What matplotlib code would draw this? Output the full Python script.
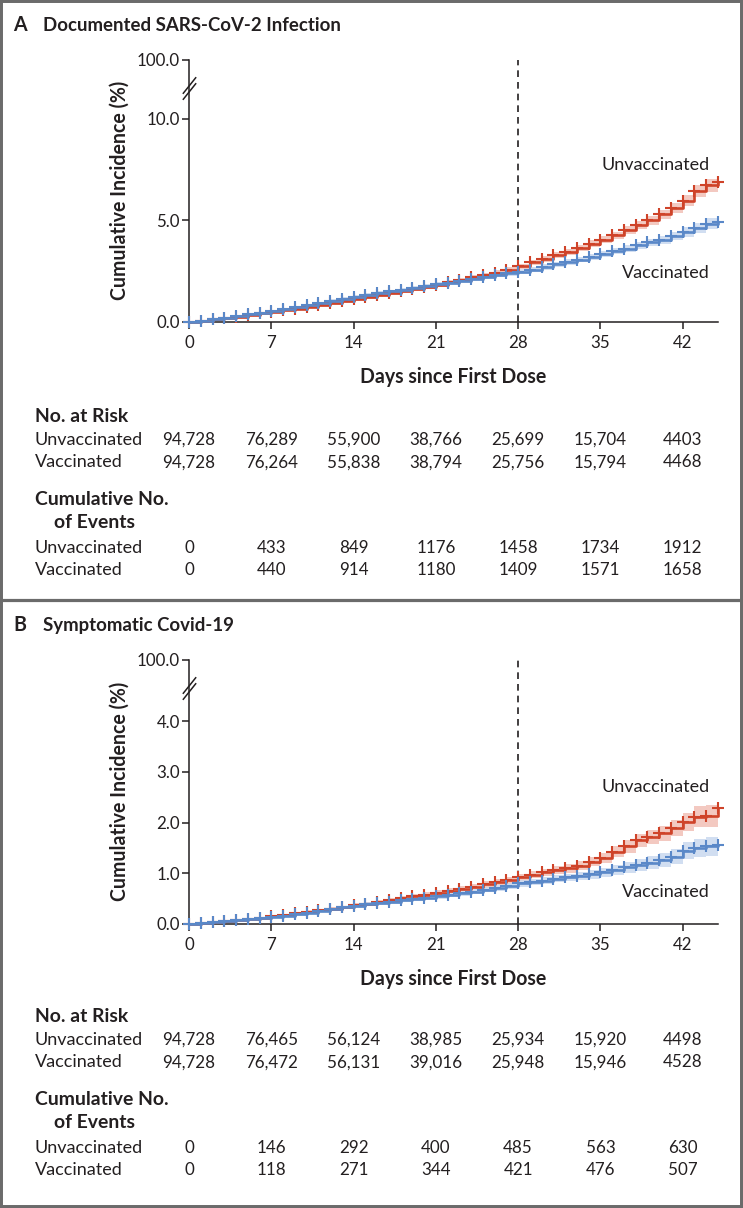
import matplotlib
matplotlib.use('Agg')
import matplotlib.pyplot as plt
from matplotlib import transforms
from matplotlib.lines import Line2D
from matplotlib.patches import Rectangle

W, H = 743, 1208

DAYS = list(range(46))
XTICKS = [0, 7, 14, 21, 28, 35, 42]

# panel A, documented infection (cumulative incidence, %)
A_UNVAX = [0.00, 0.06, 0.13, 0.20, 0.27, 0.34, 0.42, 0.50, 0.57, 0.65,
           0.73, 0.82, 0.91, 1.01, 1.12, 1.22, 1.32, 1.42, 1.52, 1.62,
           1.73, 1.84, 1.95, 2.07, 2.19, 2.31, 2.43, 2.57, 2.74, 2.93,
           3.10, 3.28, 3.45, 3.62, 3.85, 4.05, 4.26, 4.51, 4.75, 5.00,
           5.30, 5.60, 5.97, 6.45, 6.72, 6.90]
A_VAX = [0.00, 0.07, 0.14, 0.21, 0.29, 0.37, 0.45, 0.54, 0.64, 0.74,
         0.84, 0.94, 1.04, 1.14, 1.24, 1.33, 1.42, 1.50, 1.59, 1.67,
         1.76, 1.85, 1.94, 2.03, 2.12, 2.21, 2.30, 2.39, 2.48, 2.58,
         2.71, 2.83, 2.96, 3.07, 3.20, 3.33, 3.48, 3.61, 3.77, 3.91,
         4.05, 4.22, 4.43, 4.64, 4.84, 4.92]
A_UNVAX_CI = [0.00, 0.02, 0.03, 0.03, 0.04, 0.04, 0.05, 0.05, 0.05, 0.06,
              0.06, 0.06, 0.07, 0.07, 0.07, 0.08, 0.08, 0.08, 0.09, 0.09,
              0.09, 0.10, 0.10, 0.10, 0.11, 0.11, 0.12, 0.12, 0.13, 0.13,
              0.14, 0.14, 0.15, 0.15, 0.16, 0.17, 0.18, 0.19, 0.20, 0.21,
              0.23, 0.25, 0.27, 0.30, 0.32, 0.34]
A_VAX_CI = [0.00, 0.02, 0.03, 0.03, 0.04, 0.04, 0.05, 0.05, 0.05, 0.06,
            0.06, 0.06, 0.07, 0.07, 0.07, 0.08, 0.08, 0.08, 0.09, 0.09,
            0.09, 0.10, 0.10, 0.10, 0.10, 0.11, 0.11, 0.11, 0.12, 0.12,
            0.13, 0.13, 0.14, 0.14, 0.15, 0.15, 0.16, 0.17, 0.18, 0.19,
            0.20, 0.21, 0.23, 0.25, 0.27, 0.28]

# panel B, symptomatic covid-19
B_UNVAX = [0.00, 0.02, 0.04, 0.06, 0.08, 0.10, 0.12, 0.15, 0.18, 0.21,
           0.24, 0.27, 0.30, 0.33, 0.37, 0.40, 0.44, 0.47, 0.51, 0.55,
           0.58, 0.62, 0.66, 0.70, 0.74, 0.78, 0.82, 0.86, 0.92, 0.97,
           1.02, 1.06, 1.10, 1.15, 1.23, 1.30, 1.43, 1.53, 1.65, 1.72,
           1.79, 1.89, 2.02, 2.12, 2.13, 2.28]
B_VAX = [0.00, 0.015, 0.03, 0.05, 0.07, 0.09, 0.11, 0.13, 0.16, 0.19,
         0.22, 0.26, 0.29, 0.33, 0.36, 0.39, 0.42, 0.44, 0.47, 0.50,
         0.52, 0.55, 0.58, 0.61, 0.64, 0.68, 0.71, 0.75, 0.80, 0.83,
         0.85, 0.89, 0.92, 0.95, 0.98, 1.02, 1.07, 1.12, 1.17, 1.21,
         1.27, 1.33, 1.45, 1.50, 1.53, 1.55]
B_UNVAX_CI = [0.00, 0.01, 0.01, 0.015, 0.015, 0.02, 0.02, 0.02, 0.025, 0.025,
              0.03, 0.03, 0.03, 0.035, 0.035, 0.04, 0.04, 0.04, 0.045, 0.045,
              0.05, 0.05, 0.05, 0.055, 0.055, 0.06, 0.06, 0.065, 0.07, 0.07,
              0.075, 0.08, 0.085, 0.09, 0.095, 0.10, 0.11, 0.12, 0.13, 0.14,
              0.15, 0.16, 0.18, 0.20, 0.22, 0.24]
B_VAX_CI = [0.00, 0.01, 0.01, 0.015, 0.015, 0.02, 0.02, 0.02, 0.025, 0.025,
            0.03, 0.03, 0.03, 0.03, 0.035, 0.035, 0.04, 0.04, 0.04, 0.045,
            0.045, 0.05, 0.05, 0.05, 0.055, 0.055, 0.06, 0.06, 0.065, 0.065,
            0.07, 0.07, 0.075, 0.08, 0.085, 0.09, 0.10, 0.11, 0.12, 0.13,
            0.14, 0.15, 0.16, 0.18, 0.19, 0.20]

A_YTICKS = [0, 5, 10]
A_YLABELS = ['0.0', '5.0', '10.0']
B_YTICKS = [0, 1, 2, 3, 4]
B_YLABELS = ['0.0', '1.0', '2.0', '3.0', '4.0']

A_RISK_UNVAX = ['94,728', '76,289', '55,900', '38,766', '25,699', '15,704', '4403']
A_RISK_VAX = ['94,728', '76,264', '55,838', '38,794', '25,756', '15,794', '4468']
A_EVENTS_UNVAX = ['0', '433', '849', '1176', '1458', '1734', '1912']
A_EVENTS_VAX = ['0', '440', '914', '1180', '1409', '1571', '1658']
B_RISK_UNVAX = ['94,728', '76,465', '56,124', '38,985', '25,934', '15,920', '4498']
B_RISK_VAX = ['94,728', '76,472', '56,131', '39,016', '25,948', '15,946', '4528']
B_EVENTS_UNVAX = ['0', '146', '292', '400', '485', '563', '630']
B_EVENTS_VAX = ['0', '118', '271', '344', '421', '476', '507']

RED = '#cf4329'
RED_BAND = '#f1bcb2'
BLUE = '#5a88c8'
BLUE_BAND = '#c6d6ee'
INK = '#231f20'
FRAME = '#6b6b6b'

plt.rcParams['font.family'] = ['Lato', 'DejaVu Sans']

SIZES = {}


def _fit(fig, key, text, target_px, weight='normal'):
    # font size that gives the text the width it has in the reference
    renderer = fig.canvas.get_renderer()
    t = fig.text(0, 0, text, fontsize=10, fontweight=weight)
    w = t.get_window_extent(renderer).width
    t.remove()
    SIZES[key] = 10 * target_px / w


def _px(x):
    return x / W


def _py(y):
    return 1 - y / H


def _draw_curve(ax, values, ci, color, band):
    lo = [v - c for v, c in zip(values, ci)]
    hi = [v + c for v, c in zip(values, ci)]
    ax.fill_between(DAYS, lo, hi, step='post', color=band, alpha=0.8, lw=0, zorder=1)
    ax.step(DAYS, values, where='post', color=color, lw=1.9, zorder=3, clip_on=False)
    ax.plot(DAYS, values, ls='none', marker='+', ms=9, mew=1.5, color=color,
            zorder=3, clip_on=False)


def _draw_panel(fig, dy, ax_top, ax_bottom, letter, title, unvax, vax, unvax_ci, vax_ci,
                yticks, ylabels, ytop, ybreak, risk_u, risk_v, ev_u, ev_v,
                lab_u_y, lab_v_y):
    ax = fig.add_axes([_px(189), _py(ax_bottom), (718 - 189) / W, (ax_bottom - ax_top) / H])
    _draw_curve(ax, unvax, unvax_ci, RED, RED_BAND)
    _draw_curve(ax, vax, vax_ci, BLUE, BLUE_BAND)
    ax.axvline(28, color=INK, lw=1.2, ls=(0, (4, 3)), zorder=2)

    ax.set_xlim(0, 45)
    ax.set_ylim(0, ytop)
    ax.set_xticks(XTICKS)
    ax.set_yticks(yticks + [ytop])
    ax.set_yticklabels(ylabels + ['100.0'])
    for side in ('top', 'right'):
        ax.spines[side].set_visible(False)
    for side in ('left', 'bottom'):
        ax.spines[side].set_linewidth(1.1)
        ax.spines[side].set_color(INK)
    ax.tick_params(axis='both', direction='out', length=5, width=1.1, color=INK,
                   labelsize=SIZES['tick'], labelcolor=INK)
    ax.tick_params(axis='y', pad=1.5)
    ax.tick_params(axis='x', pad=4)

    # axis break on the left spine
    gap = 6 * ytop / (ax_bottom - ax_top)
    ax.plot([0, 0], [ybreak - gap / 2, ybreak + gap / 2], ls='none',
            marker=[(-0.8, -1), (0.8, 1)], ms=12, mew=1.1, mec=INK, clip_on=False, zorder=5)

    fig.text(_px(710), _py(lab_u_y), 'Unvaccinated', ha='right', va='baseline',
             fontsize=SIZES['legend'], color=INK)
    fig.text(_px(710), _py(lab_v_y), 'Vaccinated', ha='right', va='baseline',
             fontsize=SIZES['legend'], color=INK)

    fig.text(_px(13), _py(dy + 31), letter, ha='left', va='baseline',
             fontsize=SIZES['title'] * 1.05, fontweight='bold', color=INK)
    fig.text(_px(43), _py(dy + 31), title, ha='left', va='baseline',
             fontsize=SIZES['title'], fontweight='bold', color=INK)

    fig.text(_px(120), _py((ax_top + ax_bottom) / 2 - 1 + (ax_top - 60 - dy)),
             'Cumulative Incidence (%)', rotation=90, ha='center', va='center',
             fontsize=SIZES['ylabel'], fontweight='bold', color=INK)
    fig.text(_px(453), _py(ax_bottom + 61), 'Days since First Dose', ha='center',
             va='baseline', fontsize=SIZES['xlabel'], fontweight='bold', color=INK)

    # number-at-risk table, columns under the x ticks
    col_tr = transforms.blended_transform_factory(ax.transData, fig.transFigure)
    for text, x, y in (('No. at Risk', 35, 421.7), ('Cumulative No.', 35, 505),
                       ('of Events', 54, 528.3)):
        fig.text(_px(x), _py(dy + y), text, ha='left', va='baseline',
                 fontsize=SIZES['head'], fontweight='bold', color=INK)
    rows = [('Unvaccinated', risk_u, 445), ('Vaccinated', risk_v, 467.3),
            ('Unvaccinated', ev_u, 552.7), ('Vaccinated', ev_v, 575)]
    for name, vals, y in rows:
        fig.text(_px(35), _py(dy + y), name, ha='left', va='baseline',
                 fontsize=SIZES['table'], color=INK)
        for day, v in zip(XTICKS, vals):
            fig.text(day, _py(dy + y), v, ha='center', va='baseline',
                     fontsize=SIZES['num'], color=INK, transform=col_tr)
    return ax


def main():
    fig = plt.figure(figsize=(W / 100, H / 100), dpi=100)
    fig.patch.set_facecolor('white')

    _fit(fig, 'table', 'Unvaccinated', 108)
    _fit(fig, 'num', '94,728', 53)
    _fit(fig, 'head', 'No. at Risk', 93, 'bold')
    _fit(fig, 'title', 'Documented SARS-CoV-2 Infection', 299, 'bold')
    _fit(fig, 'legend', 'Unvaccinated', 108)
    _fit(fig, 'tick', '100.0', 43)
    _fit(fig, 'xlabel', 'Days since First Dose', 187, 'bold')
    _fit(fig, 'ylabel', 'Cumulative Incidence (%)', 220, 'bold')

    _draw_panel(fig, 0, 60, 322, 'A', 'Documented SARS-CoV-2 Infection',
                A_UNVAX, A_VAX, A_UNVAX_CI, A_VAX_CI, A_YTICKS, A_YLABELS,
                12.88, 11.52, A_RISK_UNVAX, A_RISK_VAX, A_EVENTS_UNVAX, A_EVENTS_VAX,
                170, 278.3)
    _draw_panel(fig, 600, 660, 924, 'B', 'Symptomatic Covid-19',
                B_UNVAX, B_VAX, B_UNVAX_CI, B_VAX_CI, B_YTICKS, B_YLABELS,
                5.21, 4.66, B_RISK_UNVAX, B_RISK_VAX, B_EVENTS_UNVAX, B_EVENTS_VAX,
                792.3, 897.3)

    fig.add_artist(Rectangle((0, 0), 1, 1, transform=fig.transFigure, fill=False,
                             ec=FRAME, lw=4.3))
    fig.add_artist(Line2D([0, 1], [_py(600), _py(600)], transform=fig.transFigure,
                          color=FRAME, lw=2.3))

    fig.savefig('out.png', dpi=100)
    plt.close(fig)


if __name__ == '__main__':
    main()
